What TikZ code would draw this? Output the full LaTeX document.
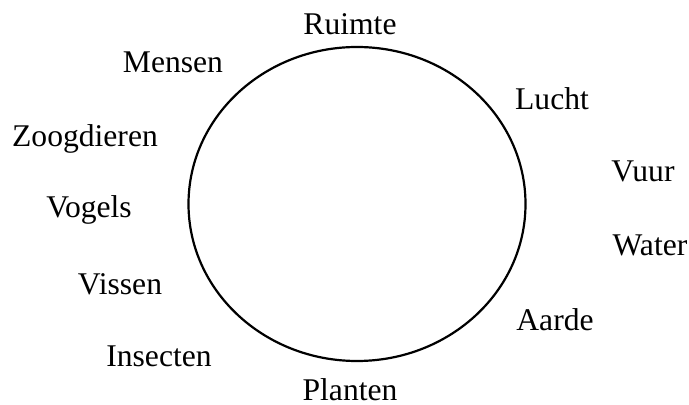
\documentclass[tikz,border=0pt]{standalone}
\usepackage{fontspec}
\setmainfont{Liberation Serif}
\usetikzlibrary{shapes.geometric}

\begin{document}
\begin{tikzpicture}[x=0.5pt, y=-0.5pt,
  ring/.style={draw, ellipse, line width=1.1pt, inner sep=0pt, minimum width=168.5pt, minimum height=157pt},
  lbl/.style={anchor=base, inner sep=0pt, font=\fontsize{15.8}{19}\selectfont}]
  \useasboundingbox (0,0) rectangle (689,405);
  \node[ring] (wheel) at (357,204) {};
  % labels round the wheel, clockwise from the top
  \node[lbl] (ruimte) at (350,35) {Ruimte};
  \node[lbl] (lucht) at (552,110) {Lucht};
  \node[lbl] (vuur) at (643,182) {Vuur};
  \node[lbl] (water) at (650,256) {Water};
  \node[lbl] (aarde) at (555,330) {Aarde};
  \node[lbl] (planten) at (350,400) {Planten};
  \node[lbl] (insecten) at (159,366) {Insecten};
  \node[lbl] (vissen) at (120,294) {Vissen};
  \node[lbl] (vogels) at (89,218) {Vogels};
  \node[lbl] (zoogdieren) at (85,147) {Zoogdieren};
  \node[lbl] (mensen) at (173,73) {Mensen};
\end{tikzpicture}
\end{document}
